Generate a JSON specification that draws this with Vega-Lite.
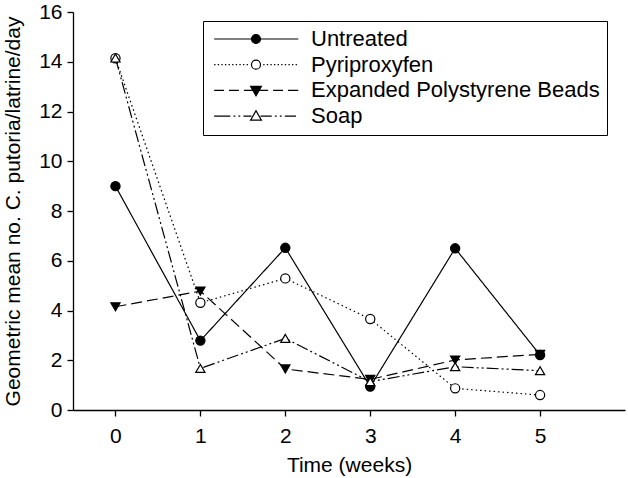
{
  "$schema": "https://vega.github.io/schema/vega-lite/v6.json",
  "width": 552,
  "height": 398,
  "autosize": {"type": "none"},
  "padding": {"left": 73, "top": 12, "right": 3, "bottom": 68},
  "background": "white",
  "config": {
    "view": {"stroke": null},
    "font": "Liberation Sans",
    "axis": {
      "grid": false,
      "domainColor": "black",
      "domainWidth": 1.3,
      "tickColor": "black",
      "tickWidth": 1.3,
      "tickSize": 6,
      "labelFontSize": 21,
      "labelColor": "black",
      "labelFont": "Liberation Sans",
      "titleFont": "Liberation Sans",
      "titleFontSize": 21,
      "titleFontWeight": "normal",
      "titleColor": "black",
      "labelFlush": false
    }
  },
  "data": {
    "values": [
      {"week": 0, "value": 9.0, "series": "Untreated"},
      {"week": 1, "value": 2.79, "series": "Untreated"},
      {"week": 2, "value": 6.52, "series": "Untreated"},
      {"week": 3, "value": 0.94, "series": "Untreated"},
      {"week": 4, "value": 6.5, "series": "Untreated"},
      {"week": 5, "value": 2.21, "series": "Untreated"},
      {"week": 0, "value": 14.14, "series": "Pyriproxyfen"},
      {"week": 1, "value": 4.31, "series": "Pyriproxyfen"},
      {"week": 2, "value": 5.29, "series": "Pyriproxyfen"},
      {"week": 3, "value": 3.66, "series": "Pyriproxyfen"},
      {"week": 4, "value": 0.87, "series": "Pyriproxyfen"},
      {"week": 5, "value": 0.6, "series": "Pyriproxyfen"},
      {"week": 0, "value": 4.15, "series": "Expanded Polystyrene Beads"},
      {"week": 1, "value": 4.78, "series": "Expanded Polystyrene Beads"},
      {"week": 2, "value": 1.65, "series": "Expanded Polystyrene Beads"},
      {"week": 3, "value": 1.23, "series": "Expanded Polystyrene Beads"},
      {"week": 4, "value": 2.01, "series": "Expanded Polystyrene Beads"},
      {"week": 5, "value": 2.24, "series": "Expanded Polystyrene Beads"},
      {"week": 0, "value": 14.15, "series": "Soap"},
      {"week": 1, "value": 1.67, "series": "Soap"},
      {"week": 2, "value": 2.88, "series": "Soap"},
      {"week": 3, "value": 1.14, "series": "Soap"},
      {"week": 4, "value": 1.74, "series": "Soap"},
      {"week": 5, "value": 1.58, "series": "Soap"}
    ]
  },
  "encoding": {
    "x": {
      "field": "week",
      "type": "quantitative",
      "scale": {"domain": [-0.5, 6], "nice": false, "zero": false},
      "axis": {"values": [0, 1, 2, 3, 4, 5], "title": "Time (weeks)", "labelPadding": 9, "titlePadding": 8}
    },
    "y": {
      "field": "value",
      "type": "quantitative",
      "scale": {"domain": [0, 16], "nice": false},
      "axis": {"values": [0, 2, 4, 6, 8, 10, 12, 14, 16], "title": "Geometric mean no. C. putoria/latrine/day", "labelPadding": 5, "titlePadding": 15}
    }
  },
  "layer": [
    {
      "mark": {"type": "line", "color": "black", "strokeWidth": 1.2},
      "encoding": {
        "strokeDash": {
          "field": "series",
          "type": "nominal",
          "scale": {
            "domain": ["Untreated", "Pyriproxyfen", "Expanded Polystyrene Beads", "Soap"],
            "range": [[1, 0], [1.5, 3], [11, 5], [12, 3, 2, 3, 2, 3]]
          },
          "legend": null
        }
      }
    },
    {
      "mark": {"type": "point", "stroke": "black", "strokeWidth": 1.2, "opacity": 1, "size": 85},
      "encoding": {
        "shape": {
          "field": "series",
          "type": "nominal",
          "scale": {
            "domain": ["Untreated", "Pyriproxyfen", "Expanded Polystyrene Beads", "Soap"],
            "range": ["circle", "circle", "triangle-down", "triangle-up"]
          },
          "legend": null
        },
        "fill": {
          "field": "series",
          "type": "nominal",
          "scale": {
            "domain": ["Untreated", "Pyriproxyfen", "Expanded Polystyrene Beads", "Soap"],
            "range": ["black", "white", "black", "white"]
          },
          "legend": null
        }
      }
    },
    {
      "transform": [{"filter": "datum.week < 0"}],
      "mark": {"type": "point", "strokeWidth": 1.2, "opacity": 1},
      "encoding": {
        "fill": {
          "field": "series",
          "type": "nominal",
          "scale": {
            "domain": ["Untreated", "Pyriproxyfen", "Expanded Polystyrene Beads", "Soap"],
            "range": ["black", "white", "black", "white"]
          },
          "legend": {"title": null}
        },
        "stroke": {
          "field": "series",
          "type": "nominal",
          "scale": {
            "domain": ["Untreated", "Pyriproxyfen", "Expanded Polystyrene Beads", "Soap"],
            "range": ["black", "black", "black", "black"]
          },
          "legend": {"title": null}
        },
        "shape": {
          "field": "series",
          "type": "nominal",
          "scale": {
            "domain": ["Untreated", "Pyriproxyfen", "Expanded Polystyrene Beads", "Soap"],
            "range": [
              "M-9.3,0H9.4M1,0A1,1 0 1,1 -1,0A1,1 0 1,1 1,0Z",
              "M-9.3,0h0.3m0.5,0h0.3m0.5,0h0.3m0.5,0h0.3m0.5,0h0.3m0.5,0h0.3m0.5,0h0.3m0.5,0h0.3m0.5,0h0.3m0.5,0h0.3M1.6,0h0.3m0.5,0h0.3m0.5,0h0.3m0.5,0h0.3m0.5,0h0.3m0.5,0h0.3m0.5,0h0.3m0.5,0h0.3m0.5,0h0.3m0.5,0h0.3M1,0A1,1 0 1,1 -1,0A1,1 0 1,1 1,0Z",
              "M-9.3,0h2.2m1.1,0h2.2m1.1,0h2.7M0,0h2.7m1.1,0h2.2m1.1,0h2.3M-1.2,-0.9L1.2,-0.9L0,1.2Z",
              "M-9.3,0h3.6m0.7,0h0.4m0.7,0h0.4m0.7,0h1.8M1,0h2.5m0.7,0h0.4m0.7,0h0.4m0.7,0h2.5M-1.2,0.9L1.2,0.9L0,-1.2Z"
            ]
          },
          "legend": {
            "title": null,
            "orient": "none",
            "legendX": 130,
            "legendY": 9,
            "direction": "vertical",
            "padding": 7,
            "strokeColor": "black",
            "fillColor": "white",
            "labelFontSize": 22,
            "labelFont": "Liberation Sans",
            "labelColor": "black",
            "labelLimit": 400,
            "symbolSize": 81,
            "symbolOffset": 35,
            "labelOffset": 44,
            "rowPadding": 3.7,
            "symbolStrokeWidth": 1.2,
            "symbolOpacity": 1,
            "encode": {
              "legend": {"update": {"strokeWidth": {"value": 1.5}}},
              "symbols": {"update": {"strokeWidth": {"value": 1.2}}}
            }
          }
        }
      }
    }
  ],
  "resolve": {"scale": {"shape": "independent", "fill": "independent", "stroke": "independent"}}
}
